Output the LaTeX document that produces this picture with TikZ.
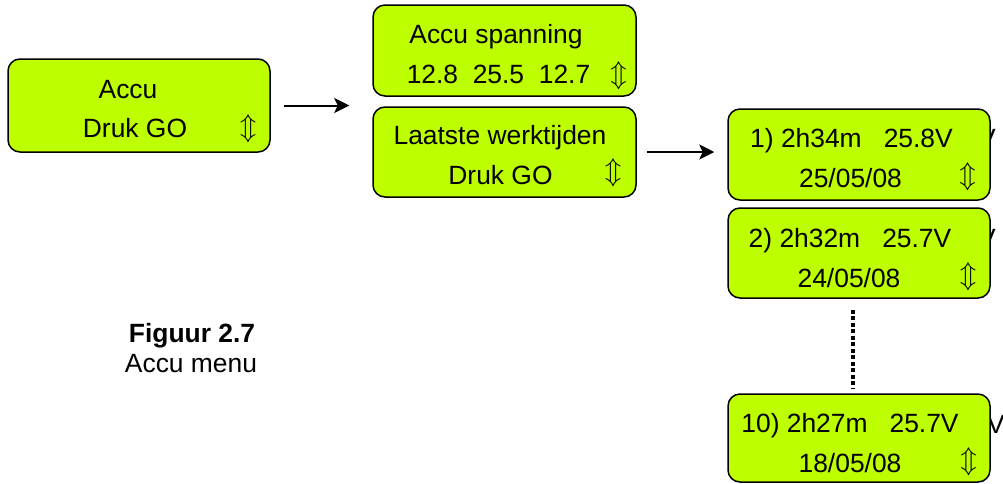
\RequirePackage{fix-cm}
\documentclass[tikz,border=0pt]{standalone}
\usepackage{fontspec}
\setmainfont{Liberation Sans}
\usetikzlibrary{arrows.meta}
\definecolor{lcdgreen}{RGB}{190,255,0}
\begin{document}
\begin{tikzpicture}[x=1pt,y=-1pt,
 box/.style={draw=black, line width=1.5pt, fill=lcdgreen, rounded corners=12pt, inner sep=0pt},
 txt/.style={anchor=base, inner sep=0pt, font=\fontsize{26.4}{30}\selectfont},
 updown/.style={inner sep=0pt, font=\fontsize{27}{30}\selectfont},
 arr/.style={line width=2pt, -{Stealth[length=15pt,width=15pt,inset=3.5pt]}},
 dots/.style={line width=4pt, dash pattern=on 4pt off 2.5pt}]
\useasboundingbox (0,0) rectangle (1003,483);

% stray letters partly hidden behind the right-hand boxes
\node[txt, anchor=base west] (v4) at (978,147) {V};
\node[txt, anchor=base west] (v5) at (978,247) {V};
\node[txt, anchor=base west] (v6) at (987,433) {V};

% boxes
\node[box, minimum width=262pt, minimum height=93pt] (b1) at (139,105.5) {};
\node[box, minimum width=263pt, minimum height=91pt] (b2) at (504.5,50.5) {};
\node[box, minimum width=263pt, minimum height=90pt] (b3) at (504.5,152) {};
\node[box, minimum width=262pt, minimum height=91pt] (b4) at (859,154.5) {};
\node[box, minimum width=262pt, minimum height=90pt] (b5) at (859,253) {};
\node[box, minimum width=262pt, minimum height=88pt] (b6) at (859,438) {};

% box 1
\node[txt] (t1a) at (128,98) {Accu};
\node[txt] (t1b) at (135,137) {Druk GO};
\node[updown] (u1) at (248,128.5) {$\Updownarrow$};
% box 2
\node[txt] (t2a) at (496,43) {Accu spanning};
\node[txt] (t2b) at (498.5,83) {12.8\ \ 25.5\ \ 12.7};
\node[updown] (u2) at (618.5,75.5) {$\Updownarrow$};
% box 3
\node[txt] (t3a) at (500,144) {Laatste werktijden};
\node[txt] (t3b) at (500.5,184) {Druk GO};
\node[updown] (u3) at (613,172.5) {$\Updownarrow$};
% box 4
\node[txt] (t4a) at (851.5,147) {1) 2h34m\ \ \ 25.8V};
\node[txt] (t4b) at (850.5,187) {25/05/08};
\node[updown] (u4) at (967.5,177) {$\Updownarrow$};
% box 5
\node[txt] (t5a) at (850,247) {2) 2h32m\ \ \ 25.7V};
\node[txt] (t5b) at (849,287) {24/05/08};
\node[updown] (u5) at (968,276.5) {$\Updownarrow$};
% box 6
\node[txt] (t6a) at (850,432) {10) 2h27m\ \ \ 25.7V};
\node[txt] (t6b) at (850,472) {18/05/08};
\node[updown] (u6) at (968.5,461.5) {$\Updownarrow$};

% caption
\node[txt] (cap1) at (192,342) {\bfseries Figuur 2.7};
\node[txt] (cap2) at (191,372) {Accu menu};

% connectors
\draw[arr, shorten <=13pt, shorten >=23pt] (b1.east) -- (b1.east -| b3.west);
\draw[arr, shorten <=10pt, shorten >=13pt] (b3.east) -- (b3.east -| b4.west);
\draw[dots, shorten <=11pt, shorten >=5pt] ([xshift=-6pt]b5.south) -- ([xshift=-6pt]b5.south |- b6.north);
\end{tikzpicture}
\end{document}
